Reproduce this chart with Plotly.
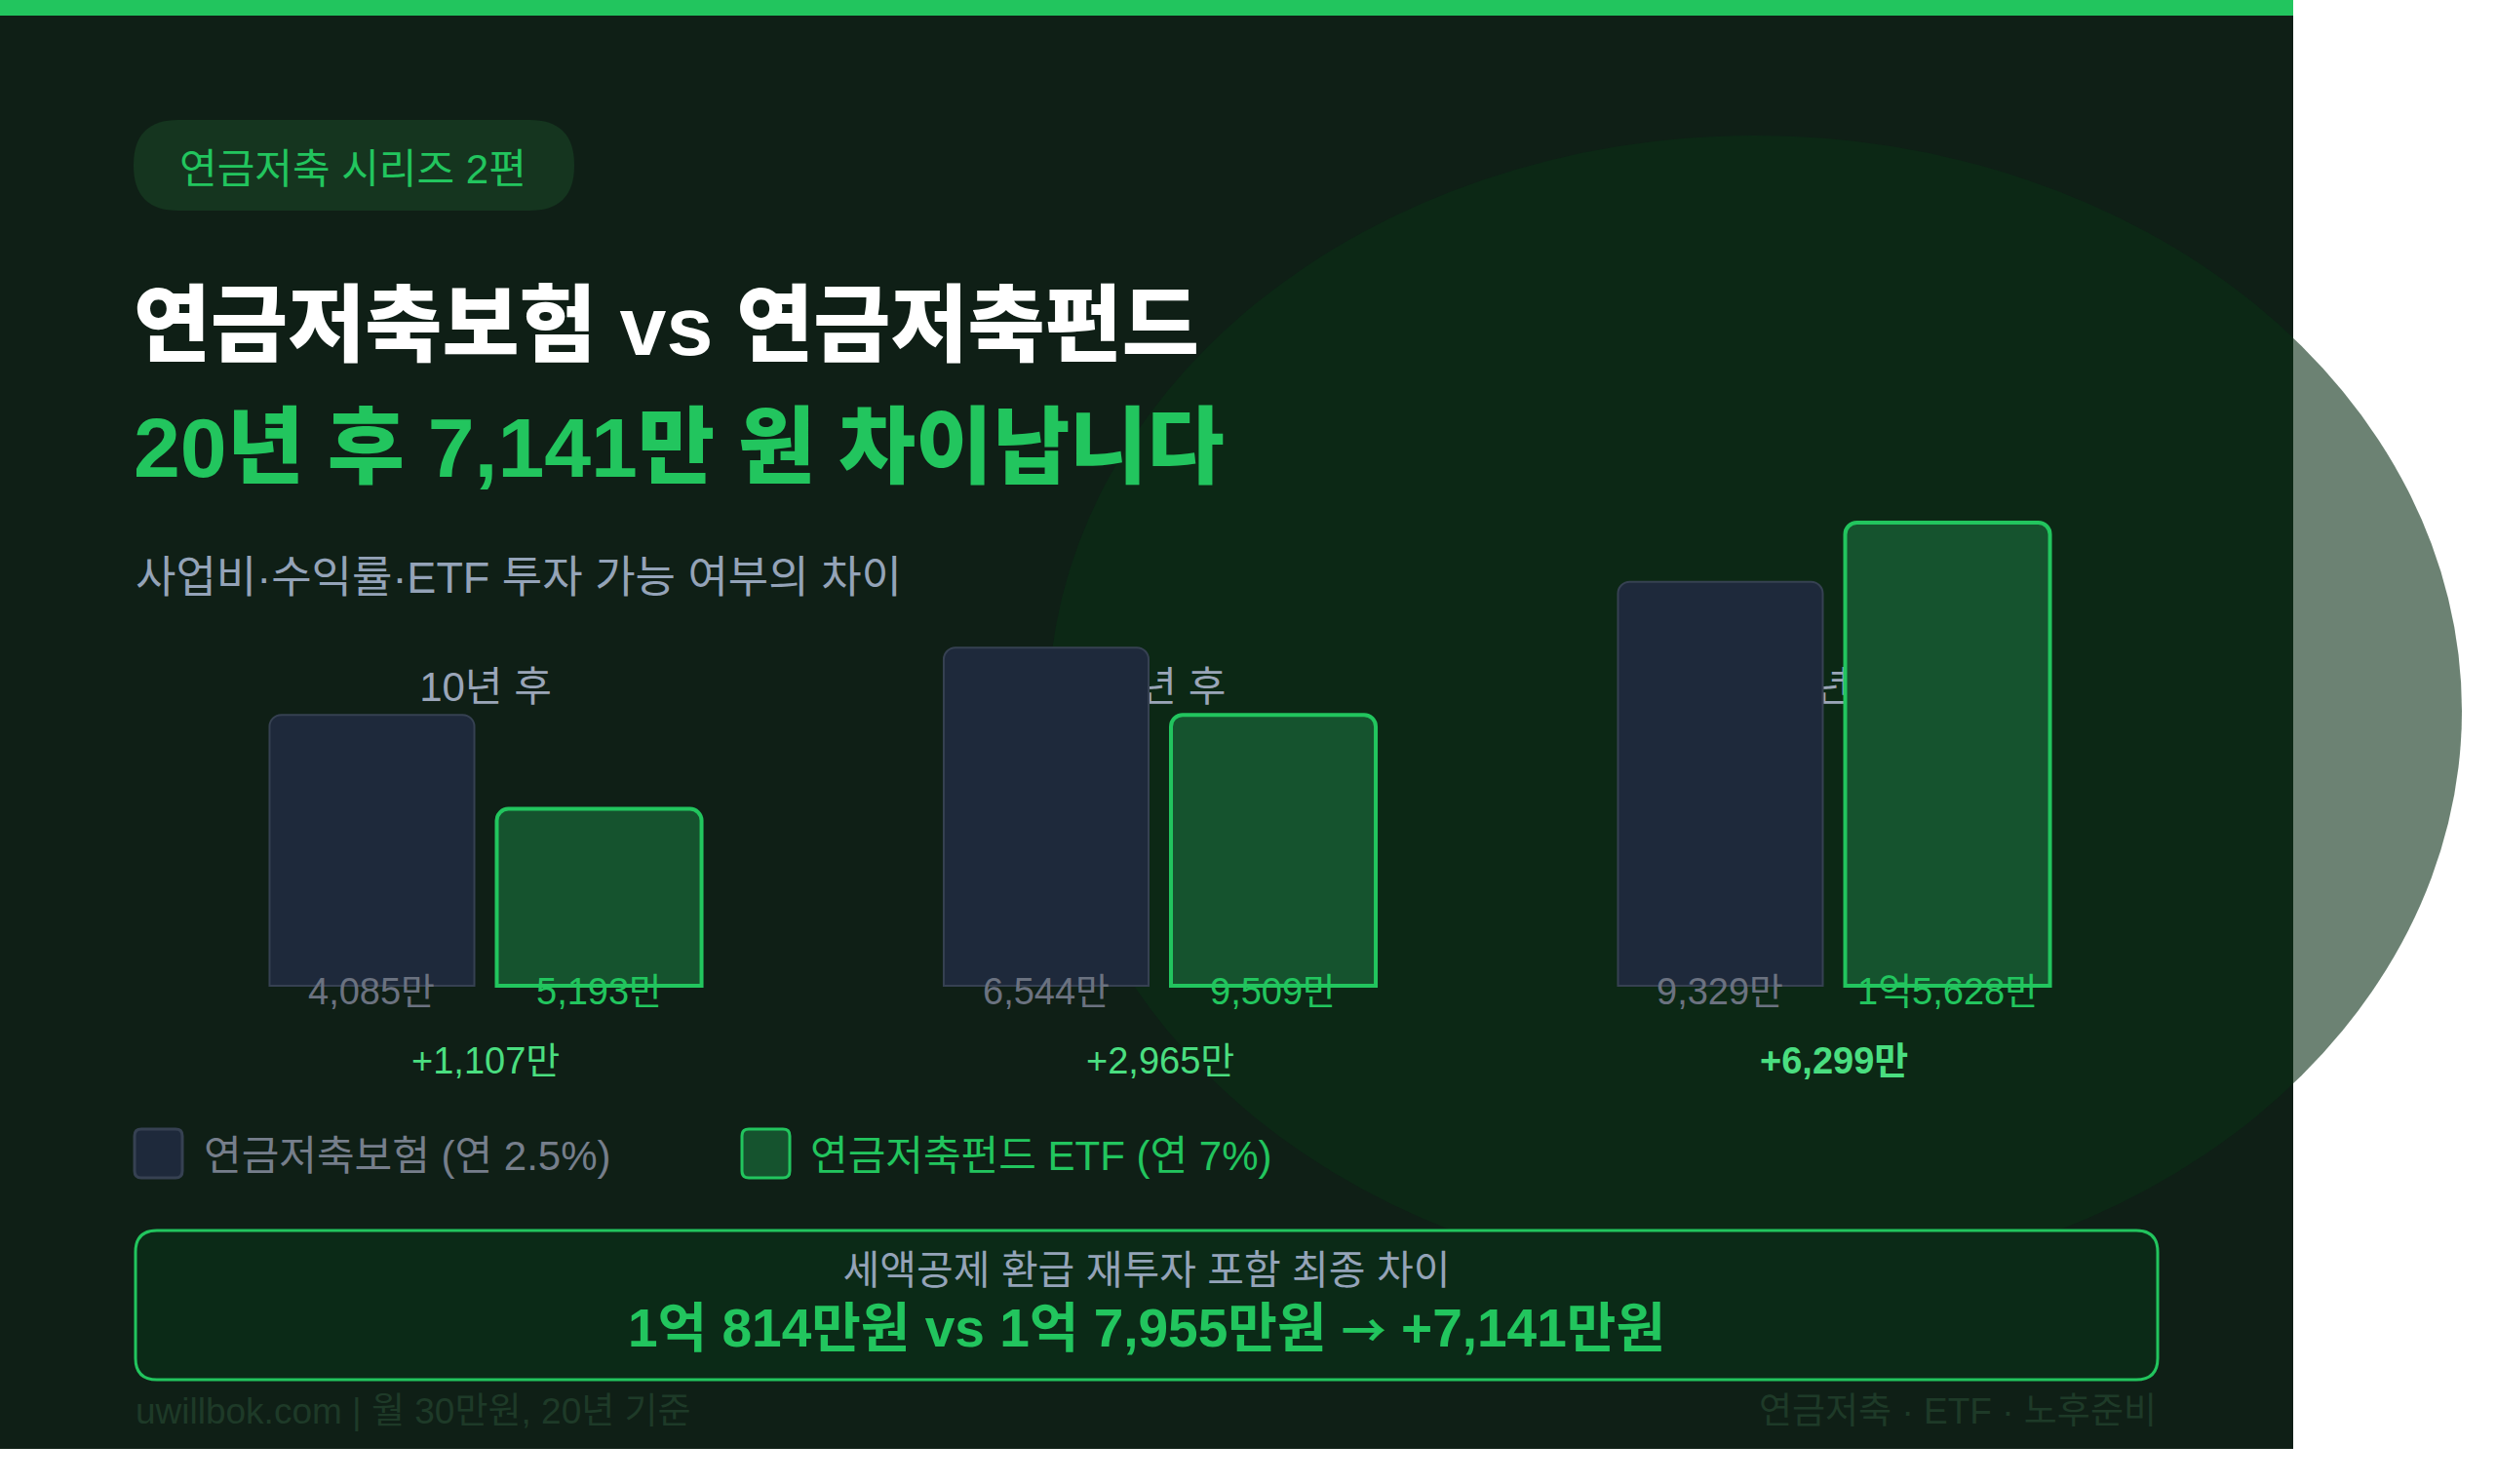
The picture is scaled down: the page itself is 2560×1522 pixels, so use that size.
import plotly.graph_objects as go

W, H = 2560, 1522

# ---------------- data ----------------
periods = ["10년 후", "20년 후", "30년 후"]
insurance_values = [4085, 6544, 9329]      # 만원, 연금저축보험 (연 2.5%)
fund_values = [5193, 9509, 15628]          # 만원, 연금저축펀드 ETF (연 7%)
gap_values = [1107, 2965, 6299]            # 만원, 차이
# drawn bar heights as they appear in the chart (% of the tallest bar)
insurance_bar_rel = [58.5, 73.0, 87.2]
fund_bar_rel = [38.2, 58.5, 100.0]

series_names = ["연금저축보험 (연 2.5%)", "연금저축펀드 ETF (연 7%)"]
final_insurance = 10814                    # 만원
final_fund = 17955                         # 만원
final_gap = 7141                           # 만원

badge_text = "연금저축 시리즈 2편"
title_text = "연금저축보험 vs 연금저축펀드"
subtitle_text = "20년 후 7,141만 원 차이납니다"
desc_text = "사업비·수익률·ETF 투자 가능 여부의 차이"
summary_caption = "세액공제 환급 재투자 포함 최종 차이"
footer_left = "uwillbok.com | 월 30만원, 20년 기준"
footer_right = "연금저축 · ETF · 노후준비"


def fmt_man(v, space=False, unit="만"):
    if v >= 10000:
        rest = v % 10000
        return f"{v // 10000}억{' ' if space else ''}{rest:,}{unit}"
    return f"{v:,}{unit}"


FONT = "Liberation Sans, Noto Sans CJK KR, sans-serif"
GREEN = "#22c55e"
LIGHT_GREEN = "#4ade80"
GRAY = "#94a3b8"
DIM = "#6b7280"


def X(p):
    return p / W


def Y(p):
    return 1 - p / H


def rrect(x0, y0, x1, y1, r):
    pts = [
        ("M", (x0 + r, y0)), ("L", (x1 - r, y0)), ("Q", (x1, y0), (x1, y0 + r)),
        ("L", (x1, y1 - r)), ("Q", (x1, y1), (x1 - r, y1)),
        ("L", (x0 + r, y1)), ("Q", (x0, y1), (x0, y1 - r)),
        ("L", (x0, y0 + r)), ("Q", (x0, y0), (x0 + r, y0)),
    ]
    out = []
    for seg in pts:
        cmd = seg[0]
        coords = " ".join(f"{X(a):.6f},{Y(b):.6f}" for a, b in seg[1:])
        out.append(f"{cmd}{coords}")
    return " ".join(out) + " Z"


# ---------------- geometry of the bar area ----------------
GROUP_PX = [498, 1881]               # centre of first and last group
unit_px = (GROUP_PX[1] - GROUP_PX[0]) / 2
xr = [-GROUP_PX[0] / unit_px, -GROUP_PX[0] / unit_px + W / unit_px]
BASE_PY = 1011
TOP_PY = 536
k = (BASE_PY - TOP_PY) / max(fund_bar_rel)
y0 = -(H - BASE_PY) / k
yr = [y0, y0 + H / k]
BARGAP = 0.326
GROUPGAP = 0.0987
off = (1 - BARGAP) / 4

fig = go.Figure()

# group labels (sit behind the bars)
fig.add_trace(go.Scatter(
    x=periods, y=[(BASE_PY - 708) / k] * len(periods), mode="text", text=periods,
    textfont=dict(family=FONT, size=42, color="#9aa5b8"),
    xaxis="x", yaxis="y", hoverinfo="skip", showlegend=False,
))

fig.add_trace(go.Bar(
    x=periods, y=insurance_bar_rel, name=series_names[0], xaxis="x2", yaxis="y2",
    marker=dict(color="#1e293b", line=dict(color="#364152", width=2), cornerradius=12),
    hoverinfo="skip", showlegend=False,
))
fig.add_trace(go.Bar(
    x=periods, y=fund_bar_rel, name=series_names[1], xaxis="x2", yaxis="y2",
    marker=dict(color="#15532e", line=dict(color=GREEN, width=4), cornerradius=12),
    hoverinfo="skip", showlegend=False,
))

shapes = [
    dict(type="rect", xref="paper", yref="paper", x0=X(0), x1=X(2352), y0=Y(0), y1=Y(1486),
         fillcolor="#0f1f16", line=dict(width=0), layer="below"),
    dict(type="circle", xref="paper", yref="paper", x0=X(1075), x1=X(2525), y0=Y(139), y1=Y(1319),
         fillcolor="rgba(10,46,22,0.6)", line=dict(width=0), layer="below"),
    dict(type="rect", xref="paper", yref="paper", x0=X(0), x1=X(2352), y0=Y(0), y1=Y(16),
         fillcolor=GREEN, line=dict(width=0), layer="below"),
    dict(type="path", xref="paper", yref="paper", path=rrect(137, 123, 589, 216, 46),
         fillcolor="#15351f", line=dict(width=0), layer="below"),
    dict(type="path", xref="paper", yref="paper", path=rrect(138, 1158, 187, 1208, 7),
         fillcolor="#1e293b", line=dict(color="#364152", width=3), layer="below"),
    dict(type="path", xref="paper", yref="paper", path=rrect(761, 1158, 810, 1208, 7),
         fillcolor="#15532e", line=dict(color=GREEN, width=3), layer="below"),
    dict(type="path", xref="paper", yref="paper", path=rrect(139, 1262, 2213, 1415, 22),
         fillcolor="#0b2a17", line=dict(color=GREEN, width=3), layer="below"),
]

ann = []


def text(x, y, s, size, color, xanchor="left", weight=400, xref="paper"):
    ann.append(dict(x=X(x) if xref == "paper" else x, y=Y(y), xref=xref, yref="paper",
                    text=s, showarrow=False, xanchor=xanchor, yanchor="middle",
                    font=dict(family=FONT, size=size, color=color, weight=weight)))


text(362, 173, badge_text, 42, GREEN, "center")
text(135, 334, title_text, 86, "#ffffff", weight=800)
text(135, 459, subtitle_text, 86, GREEN, weight=800)
text(137, 592, desc_text, 45, GRAY)

for i in range(len(periods)):
    text(i - off, 1017, fmt_man(insurance_values[i]), 38, DIM, "center", xref="x2")
    text(i + off, 1017, fmt_man(fund_values[i]), 38, GREEN, "center", xref="x2")
    last = i == len(periods) - 1
    text(i, 1088, "+" + fmt_man(gap_values[i]), 38, LIGHT_GREEN, "center",
         weight=700 if last else 400, xref="x2")

text(207, 1185, series_names[0], 42, "#767e8b")
text(829, 1185, series_names[1], 42, GREEN)

arrow = "<span style='font-family:Noto Sans CJK KR;font-size:46px'>→</span>"
summary_line = (f"{fmt_man(final_insurance, True, '만원')} vs {fmt_man(final_fund, True, '만원')}"
                f" {arrow} +{fmt_man(final_gap, unit='만원')}")
ann.append(dict(
    x=X(1176), y=Y(1337), xref="paper", yref="paper", showarrow=False,
    xanchor="center", yanchor="middle", align="center",
    text=(f"<span style='font-size:41px;color:{GRAY}'>{summary_caption}</span><br>"
          f"<span style='font-size:55px;font-weight:700;color:{GREEN}'>{summary_line}</span>"),
    font=dict(family=FONT, size=49, color=GREEN),
))

text(137, 1447, footer_left, 37, "#1e3a28")
text(2214, 1447, footer_right, 37, "#1e3a28", "right")

axis_off = dict(visible=False, fixedrange=True, showgrid=False, zeroline=False)
fig.update_layout(
    width=W, height=H, margin=dict(l=0, r=0, t=0, b=0, pad=0),
    paper_bgcolor="#ffffff", plot_bgcolor="rgba(0,0,0,0)",
    barmode="group", bargap=BARGAP, bargroupgap=GROUPGAP, showlegend=False,
    xaxis=dict(type="category", categoryarray=periods, range=xr, **axis_off),
    yaxis=dict(range=yr, **axis_off),
    xaxis2=dict(type="category", categoryarray=periods, range=xr, overlaying="x", **axis_off),
    yaxis2=dict(range=yr, overlaying="y", **axis_off),
    shapes=shapes, annotations=ann,
)

fig.write_html("out.html", config={"displayModeBar": False},
               post_script="document.body.style.margin='0';document.body.style.overflow='hidden';")
